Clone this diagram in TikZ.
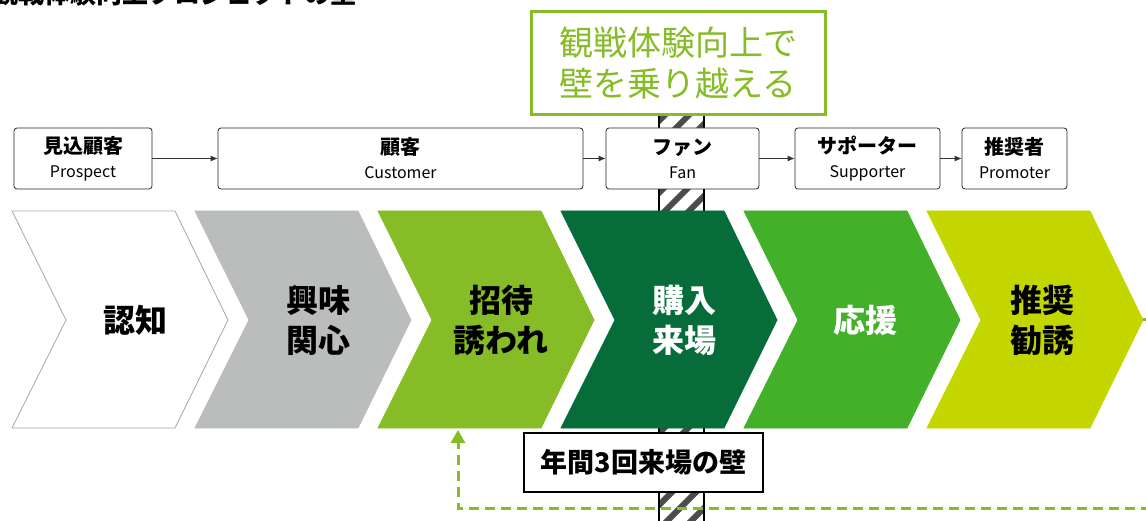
\documentclass[tikz,border=0pt]{standalone}
\usepackage{fontspec}
\setmainfont{Noto Sans CJK JP}
\usetikzlibrary{arrows.meta}
\definecolor{kusa}{HTML}{86BC25}
\definecolor{fukami}{HTML}{066C39}
\definecolor{midori}{HTML}{43B02A}
\definecolor{kimidori}{HTML}{C4D600}
\definecolor{haiiro}{HTML}{BBBCBC}
\newcommand{\stg}[2]{{\fontsize{20}{24}\selectfont\bfseries #1}\\{#2}}
\tikzset{
  stagebox/.style={draw=black!85, rounded corners=3pt, line width=0.8pt, fill=white,
    align=center, inner sep=0pt, minimum height=61pt, font=\fontsize{16}{24}\selectfont},
  flow/.style={-{Latex[length=7pt,width=6pt]}, line width=0.8pt, black!80},
  chevlabel/.style={align=center, font=\fontsize{32}{40}\selectfont\bfseries},
  loopback/.style={kusa, line width=3pt, dash pattern=on 10pt off 6pt,
    -{Triangle[length=13pt,width=14pt]}},
}
\begin{document}
\begin{tikzpicture}[x=1pt,y=-1pt]
  \useasboundingbox (0,0) rectangle (1146,521);
  % title, cut off at the top edge
  \node[anchor=base west, font=\fontsize{26}{30}\selectfont\bfseries, inner sep=0pt]
    (title) at (-8,4) {観戦体験向上プロジェクトの壁};
  % the wall
  \fill[white] (659,115) rectangle (704,521);
  \begin{scope}
    \clip (659,115) rectangle (704,521);
    \foreach \k in {0,...,20}
      \draw[line width=6pt, black!70] (650,130+24*\k) -- ++(60,-60);
  \end{scope}
  \draw[line width=1.5pt] (659,115) -- (659,521) (704,115) -- (704,521);
  % goal box
  \node[draw=kusa, line width=3pt, fill=white, text=kusa, align=center,
    minimum width=294pt, minimum height=103pt, inner sep=0pt,
    font=\fontsize{34}{41}\selectfont] (goal) at (678,63.5) {観戦体験向上で\\壁を乗り越える};
  % customer stages
  \node[stagebox, minimum width=138pt] (prospect) at (83,158.5) {\stg{見込顧客}{Prospect}};
  \node[stagebox, minimum width=365pt] (customer) at (400.5,158.5) {\stg{顧客}{Customer}};
  \node[stagebox, minimum width=153pt] (fan) at (682.5,158.5) {\stg{ファン}{Fan}};
  \node[stagebox, minimum width=145pt] (supporter) at (867.5,158.5) {\stg{サポーター}{Supporter}};
  \node[stagebox, minimum width=105pt] (promoter) at (1014.5,158.5) {\stg{推奨者}{Promoter}};
  \draw[flow] (prospect) -- (customer);
  \draw[flow] (customer) -- (fan);
  \draw[flow] (fan) -- (supporter);
  \draw[flow] (supporter) -- (promoter);
  % chevrons
  \foreach \i/\fc/\dc/\tc/\dx/\lab in {0/white/black!35/black/0/認知,
      1/haiiro/haiiro/black/0/興味\\関心, 2/kusa/kusa/black/0/招待\\誘われ,
      3/fukami/fukami/white/0/購入\\来場, 4/midori/midori/white/-2/応援,
      5/kimidori/kimidori/black/-8/推奨\\勧誘} {
    \pgfmathsetmacro{\xo}{12+183*\i}
    \draw[fill=\fc, draw=\dc, line width=0.8pt] (\xo,211) -- ++(163,0) -- ++(53,109)
      -- ++(-53,108) -- ++(-163,0) -- ++(54,-108) -- cycle;
    \node[chevlabel, text=\tc] (c\i) at (\xo+123+\dx,320) {\lab};
    \coordinate (tip\i) at (\xo+216,320);
    \coordinate (bot\i) at (\xo+80,430);
  }
  % wall label
  \node[draw, line width=2.5pt, fill=white, minimum width=239pt, minimum height=59pt,
    inner sep=0pt, font=\fontsize{27}{32}\selectfont\bfseries] (wall) at (643.5,462.5) {年間3回来場の壁};
  % loop back to invitation
  \coordinate (turn) at (1165,508);
  \draw[loopback] (tip5) -| (turn) -| (bot2);
\end{tikzpicture}
\end{document}
